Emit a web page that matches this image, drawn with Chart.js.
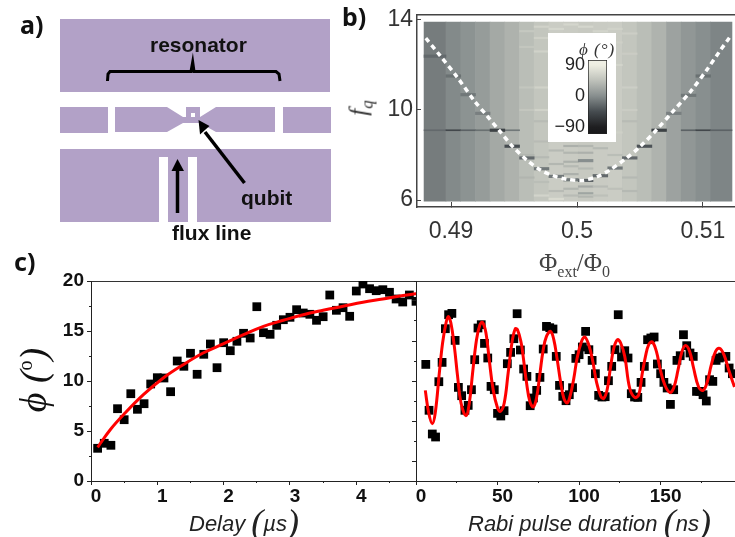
<!DOCTYPE html>
<html>
<head>
<meta charset="utf-8">
<script src="https://cdn.jsdelivr.net/npm/chart.js@4"></script>
<style>
  html, body { margin: 0; padding: 0; background: #fff; }
  #page { position: relative; width: 735px; height: 537px; overflow: hidden; }
  canvas { position: absolute; }
  .t { position: absolute; white-space: nowrap; font-family: "Liberation Sans", sans-serif; color: #111; line-height: 1; }
  .panel { font-family: "Noto Sans", sans-serif; font-weight: 700; font-size: 25px; }
  .lbl { font-weight: 700; font-size: 21px; }
  .ax { font-style: italic; font-size: 22px; color: #222; }
  .par { font-family: "Liberation Serif", serif; font-style: italic; font-size: 36px; font-weight: 400; vertical-align: -3px; }
  .rot { transform: translate(-50%, -50%) rotate(-90deg); }
</style>
</head>
<body>
<div id="page">
  <canvas id="chartA" width="340" height="260" style="left:0;top:0"></canvas>
  <canvas id="chartB" width="395" height="270" style="left:340px;top:0;filter:blur(0.6px)"></canvas>
  <canvas id="chartBar" width="68" height="109" style="left:548px;top:33px;background:#fff"></canvas>
  <canvas id="chartDelay" width="420" height="267" style="left:0;top:270px"></canvas>
  <canvas id="chartRabi" width="330" height="267" style="left:405px;top:270px"></canvas>

  <div class="t panel" style="left:20px;top:12px">a)</div>
  <div class="t panel" style="left:342px;top:4px">b)</div>
  <div class="t panel" style="left:14px;top:249px">c)</div>

  <div class="t lbl" style="left:150px;top:34px">resonator</div>
  <div class="t lbl" style="left:241px;top:187px">qubit</div>
  <div class="t lbl" style="left:172px;top:222px">flux line</div>

  <div class="t" style="left:579px;top:40px;font:italic 17px 'Liberation Serif',serif;color:#333;letter-spacing:1px">&#981; (&deg;)</div>
  <div class="t rot" style="left:361px;top:108px;font:italic 25px 'Liberation Serif',serif;color:#333">f<sub style="font-size:17px">q</sub></div>
  <div class="t" style="left:539px;top:249px;font:25px 'Liberation Serif',serif;color:#444">&Phi;<sub style="font-size:16px">ext</sub>/&Phi;<sub style="font-size:16px">0</sub></div>

  <div class="t rot" style="left:33px;top:380px;font:italic 38px 'Liberation Serif',serif"><span>&#981;</span> (<sup style="font-size:20px;font-style:normal">o</sup>)</div>
  <div class="t ax" style="left:189px;top:504px">Delay <span class="par">(</span>&micro;s<span class="par">)</span></div>
  <div class="t ax" style="left:468px;top:504px">Rabi pulse duration <span class="par">(</span>ns<span class="par">)</span></div>
</div>

<script>
// panel a outlines, in the pixel grid of the sketch
const PURPLE = '#b2a1c7';
const topPlate = [[60,19],[330,19],[330,92],[60,92]];
const midLeft = [[60,107],[108,107],[108,133],[60,133]];
const midCentre = [[115,107],[167,107],[183,117],[186,117],[186,107],[200,107],[200,117],[216,107],[275,107],[275,132],[216,132],[200,123],[183,123],[167,132],[115,132]];
const midRight = [[283,107],[331,107],[331,133],[283,133]];
const bottomPlate = [[60,149],[331,149],[331,222],[60,222]];
const slotLeft = [[159,157],[168,157],[168,222],[159,222]];
const slotRight = [[188,157],[197,157],[197,222],[188,222]];
const qubitHole = [[191,113],[195,113],[195,117],[191,117]];
const bracket = [[107.5,81],[108,74],[110,71.5],[191,71.5],[192.7,62],[194,71.5],[276,71.5],[279,74],[280,81]];
const fluxShaft = [[177.5,213],[177.5,170]];
const fluxHead = [[171.5,171],[177.5,159],[184,171]];
const qubitShaft = [[244.5,183],[205,132]];
const qubitHead = [[198.5,120],[209.5,126],[200,134.5]];

// panel b: band edges in flux, phase of each band
const bandEdges = [0.48786,0.48960,0.49077,0.49194,0.49310,0.49427,0.49544,0.49660,0.49777,0.49894,0.50010,0.50127,0.50244,0.50360,0.50477,0.50594,0.50710,0.50827,0.50944,0.51060,0.51230];
const bandPhi = [-12,-3,4,12,24,32,42,50,56,55,53,55,56,50,42,33,18,8,1,-6,-12];
const streakBand = [9,9,9,9,9,9,9,10,10,10,10,10,10,8,8,8,8,11,11,11,7,7,7,7,12,12,6,6,13,13,7,7,7,8,8,8,9,9,10,10,10,11,11,12,12,13,13,6,6,7,7,7,6,6,13,13,13,12,12];
const streakF = [8.4,8.1,7.7,7.5,7.15,6.5,6.2,8.4,8.1,7.4,6.6,6.3,6.15,8.2,7.6,6.4,6.05,8.3,6.6,6.2,8.6,7.9,6.8,6.2,8,6.5,7,8,7,6.4,13.7,13.2,12.6,13.6,13,12.4,13.8,13.3,13.7,13.3,12.7,13.5,12.9,13.6,13,13.4,12.5,13.5,12.8,11,10,9.5,11,10,10,9.5,11,12,9];
const streakPhi = [30,35,30,38,30,35,40,35,30,38,25,20,35,38,36,40,70,38,40,44,40,38,42,64,42,44,34,34,38,38,62,60,62,66,64,66,66,64,66,62,66,64,66,62,60,58,56,52,50,62,62,40,50,50,56,40,58,64,60];
const dashBand = [0,1,2,3,4,5,6,7,8,9,10,10,11,12,13,14,15,16,17,18];
const dashF = [12.39,11.51,10.68,9.85,9.1,8.39,7.87,7.39,7.05,6.9,6.87,7.75,7.08,7.42,7.87,8.39,9.1,9.85,10.65,11.51];
const dashPhi = [-25,-20,-15,-10,-55,-45,-25,-15,-15,-15,-30,0,-25,-15,-25,-40,-55,-10,-15,-20];
const lineF = 9.1;
const lineBands = [0,1,2,3,5,15,17,18,19];
const lineBandPhi = [-25,-50,-30,-20,-15,-15,-30,-50,-30];
const curveFlux = [0.4880,0.4891,0.4905,0.4919,0.4928,0.4939,0.4949,0.4960,0.4971,0.4981,0.4992,0.5004,0.5016,0.5026,0.5039,0.5050,0.5063,0.5076,0.5090,0.5103,0.5113,0.5121];
const curveFq = [13.19,12.44,11.45,10.37,9.78,9.04,8.37,7.78,7.33,7.08,6.92,6.87,7.04,7.33,7.85,8.37,9.11,9.93,10.81,11.78,12.59,13.21];
const fluxTicks = [0.49,0.5,0.51];
const fqTicks = [6,10,14];
const barTicks = [-90,0,90];

// panel c, delay trace
const delayT = [0.1,0.2,0.3,0.4,0.5,0.6,0.7,0.8,0.9,1.0,1.1,1.2,1.3,1.4,1.5,1.6,1.7,1.8,1.9,2.0,2.1,2.2,2.3,2.4,2.5,2.6,2.7,2.8,2.9,3.0,3.1,3.2,3.3,3.4,3.5,3.6,3.7,3.8,3.9,4.0,4.1,4.2,4.3,4.4,4.5,4.6,4.7,4.8,4.9];
const delayPhi = [3.27,3.77,3.57,7.23,6.13,8.73,7.17,7.73,9.7,10.33,10.3,8.93,12.0,11.47,12.77,10.67,12.67,13.7,11.33,13.83,13.03,13.97,14.77,14.3,17.43,14.83,14.67,15.57,16.13,16.37,17.13,16.8,16.67,16.07,16.43,18.6,17.07,17.33,16.47,19.0,19.7,19.23,19.03,19.13,18.87,18.2,17.9,18.6,17.97];
const delayFitT = [0.1,0.29,0.49,0.79,1.09,1.39,1.69,2.0,2.3,2.6,2.9,3.2,3.5,3.8,4.1,4.4,4.66,4.91];
const delayFitPhi = [3.37,5.13,6.63,8.63,10.3,11.63,12.8,13.73,14.63,15.47,16.07,16.63,17.07,17.47,17.87,18.2,18.5,18.73];

// panel c, Rabi trace
const rabiT = [6,8,10,12,14,16,18,20,22,24,26,28,30,32,34,36,38,40,42,44,46,48,50,52,54,56,58,60,62,64,66,68,70,72,74,76,78,80,82,84,86,88,90,92,94,96,98,100,102,104,106,108,110,112,114,116,118,120,122,124,126,128,130,132,134,136,138,140,142,144,146,148,150,152,154,156,158,160,162,164,166,168,170,172,174,176,178,180,182,184,186,188,190,192,194];
const rabiPhi = [11.66,7.07,4.7,4.4,9.93,11.86,15.23,16.63,16.76,14.06,9.36,8.53,7.07,7.56,9.13,12.13,15.3,15.63,13.76,12.3,9.46,9.13,6.76,6.5,7.03,11.73,12.86,14.23,16.73,13.1,11.2,10.46,7.53,8.3,9.06,10.36,13.2,15.46,15.33,15.2,12.46,9.56,8.46,8.03,8.63,9.33,12.26,12.63,13.4,14.96,13.13,12.06,10.73,8.56,8.4,8.43,10.03,11.46,13.13,16.63,12.4,13.03,12.3,8.73,8.4,8.36,9.86,11.46,14.13,14.3,14.4,11.7,10.73,9.86,9.3,7.66,9.13,12.06,12.53,14.63,13.53,12.8,12.46,8.96,8.96,8.63,8,10.13,9.96,12.06,12.3,12.4,12.46,11.3,10.73];
const rabiFitT = [5.7,7.8,10,11.8,14.3,16.3,18.4,19.8,21.4,23.5,25.5,27.6,30.6,32.7,34.7,37.1,39.2,40.8,42.9,44.9,47.3,50,51.8,54.1,56.5,58.8,60.8,62.2,64.5,65.7,67.8,69.8,71.9,73.9,75.9,78,80,82.5,84.5,86.6,88.6,90.6,92.7,94.7,96.8,98.8,101.5,103.5,105.9,108.2,110.6,113.3,115.1,117.2,119.2,121.3,123.5,125.5,128,131,134.1,136.6,138.6,140.7,142.7,144.9,147.4,149.8,152.5,155.6,158,160.7,163.1,165.3,167.8,170.2,173.3,176,178.4,181.1,183.7,186.2,188.8,191.7,195.3];
const rabiFitPhi = [9.06,6.8,5.73,6.8,10.8,13.8,15.8,16.46,15.8,13.46,10.46,7.8,6.53,7.8,10.8,14.13,15.63,15.86,14.8,12.13,9.13,7.3,6.96,7.8,10.8,13.8,15.2,15.13,13.8,12.46,9.8,7.96,7.4,8.3,10.63,13.13,14.46,14.96,14.13,12.13,9.96,8.3,7.8,8.63,10.3,12.3,13.96,14.4,13.63,12.13,9.96,8.46,8.26,9.13,11.3,13.3,14.13,13.8,12.46,9.3,8.36,8.63,10.63,12.46,13.63,13.9,12.96,11.13,9.63,8.86,9.3,11.13,12.96,13.56,12.96,11.3,9.4,9.06,9.8,11.63,12.96,13.26,12.63,11.13,9.4];

Chart.defaults.animation = false;
Chart.defaults.responsive = false;
Chart.defaults.plugins.legend.display = false;
Chart.defaults.plugins.tooltip.enabled = false;
Chart.defaults.font.family = '"Liberation Sans", sans-serif';

const zip = (xs, ys) => xs.map((x, i) => ({ x: x, y: ys[i] }));
// axes get a fixed size and no label overhang, so the plot areas land where the reference has them
const noPad = s => { s.paddingLeft = s.paddingRight = s.paddingTop = s.paddingBottom = 0; };
const fixW = w => s => { s.width = w; noPad(s); };
const fixH = h => s => { s.height = h; noPad(s); };
const ticksAt = vals => s => { s.ticks = vals.map(v => ({ value: v })); };

// grey ramp of the colour bar
const ramp = [[-110,24,24,26],[-90,30,30,32],[-45,70,76,80],[0,135,142,142],[45,190,193,186],[90,238,238,226],[105,240,240,230]];
function phiColor(phi) {
  for (let i = 1; i < ramp.length; i++) {
    if (phi <= ramp[i][0]) {
      const a = ramp[i - 1], b = ramp[i], k = (phi - a[0]) / (b[0] - a[0]);
      return 'rgb(' + [1, 2, 3].map(c => Math.round(a[c] + (b[c] - a[c]) * k)).join(',') + ')';
    }
  }
  return 'rgb(240,240,230)';
}

// panel a
function shape(points, color) {
  return { data: points.map(p => ({ x: p[0], y: p[1] })), backgroundColor: color, borderWidth: 0, pointRadius: 0, fill: 'shape', tension: 0 };
}
function stroke(points, width) {
  return { data: points.map(p => ({ x: p[0], y: p[1] })), borderColor: '#000', borderWidth: width, pointRadius: 0, fill: false, tension: 0 };
}
new Chart(document.getElementById('chartA'), {
  type: 'line',
  data: {
    datasets: [
      stroke(bracket, 3), stroke(fluxShaft, 3.5), shape(fluxHead, '#000'), stroke(qubitShaft, 3.5), shape(qubitHead, '#000'),
      shape(qubitHole, '#fff'), shape(slotLeft, '#fff'), shape(slotRight, '#fff'),
      shape(topPlate, PURPLE), shape(midLeft, PURPLE), shape(midCentre, PURPLE), shape(midRight, PURPLE), shape(bottomPlate, PURPLE)
    ]
  },
  options: {
    layout: { autoPadding: false },
    scales: {
      x: { type: 'linear', display: false, min: 0, max: 340 },
      y: { type: 'linear', display: false, min: 0, max: 260, reverse: true }
    }
  }
});

// panel b: the heat map is floating horizontal bars, all in one stack so they overlap
function cells(bands, fs, phis, thickness) {
  return {
    type: 'bar', indexAxis: 'y', stack: 'heat', barThickness: thickness, borderWidth: 0, borderSkipped: false,
    data: bands.map((b, i) => ({ x: [bandEdges[b], bandEdges[b + 1]], y: fs[i] })),
    backgroundColor: phis.map(phiColor)
  };
}
const allBands = bandPhi.slice(0, 20).map((p, i) => i);
new Chart(document.getElementById('chartB'), {
  data: {
    datasets: [
      { type: 'line', data: zip(curveFlux, curveFq), borderColor: '#fff', borderWidth: 3.5, borderDash: [5, 4], pointRadius: 0, tension: 0.3, fill: false },
      cells(dashBand, dashF, dashPhi, 2.5),
      cells(lineBands, lineBands.map(() => lineF), lineBandPhi, 1),
      cells(streakBand, streakF, streakPhi, 1.5),
      cells(allBands, allBands.map(() => 9.93), bandPhi.slice(0, 20), 179)
    ]
  },
  options: {
    layout: { autoPadding: false, padding: { top: 15 } },
    scales: {
      x: {
        type: 'linear', min: 0.4873, max: 0.51254, stacked: false, afterFit: fixH(63), afterBuildTicks: ticksAt(fluxTicks),
        grid: { drawOnChartArea: false, tickLength: -5, color: '#444' }, border: { color: '#444', width: 1.5 },
        ticks: { color: '#333', font: { size: 23 }, padding: 16, maxRotation: 0, callback: v => String(v) }
      },
      y: {
        type: 'linear', min: 5.69, max: 14.22, offset: false, afterFit: fixW(77), afterBuildTicks: ticksAt(fqTicks),
        grid: { drawOnChartArea: false, offset: false, tickLength: -4, color: '#444' }, border: { color: '#444', width: 1.5 },
        ticks: { color: '#333', font: { size: 23 }, padding: 8 }
      },
      xTop: {
        type: 'linear', axis: 'x', min: 0, max: 1, position: { y: 14.22 },
        grid: { drawOnChartArea: false, drawTicks: false }, border: { color: '#444', width: 1.5 }, ticks: { display: false }
      }
    }
  }
});

// colour bar inset
new Chart(document.getElementById('chartBar'), {
  type: 'bar',
  data: {
    labels: ['phi'],
    datasets: [{
      data: [[-110, 104.5]],
      barPercentage: 1, categoryPercentage: 1, borderWidth: 1, borderColor: '#222', borderSkipped: false,
      backgroundColor: c => {
        const area = c.chart.chartArea;
        if (!area) return '#888';
        const g = c.chart.ctx.createLinearGradient(0, area.bottom, 0, area.top);
        ramp.forEach(r => g.addColorStop((Math.min(r[0], 104.5) + 110) / 214.5, phiColor(r[0])));
        return g;
      }
    }]
  },
  options: {
    layout: { autoPadding: false, padding: { top: 27, right: 9, bottom: 8 } },
    scales: {
      x: { display: false },
      y: {
        min: -110, max: 104.5, afterFit: fixW(40), afterBuildTicks: ticksAt(barTicks),
        grid: { drawOnChartArea: false, tickLength: -2, color: '#444' }, border: { display: false },
        ticks: { color: '#222', font: { size: 18 }, padding: 5, callback: v => v < 0 ? '\u2212' + (-v) : String(v) }
      }
    }
  }
});

// panel c axes, major and minor ticks sit on separate scales because tick length is per scale
function majorX(min, max, step, height) {
  return {
    type: 'linear', min: min, max: max, afterFit: fixH(height),
    grid: { drawOnChartArea: false, tickLength: 4, color: '#222' }, border: { color: '#222' },
    ticks: { stepSize: step, color: '#111', font: { size: 19, weight: 'bold' }, padding: 0, labelOffset: 5, maxRotation: 0, autoSkip: false, includeBounds: false, callback: v => v }
  };
}
function minorX(min, max, vals) {
  return {
    type: 'linear', axis: 'x', min: min, max: max, position: { y: 0 }, afterBuildTicks: ticksAt(vals),
    grid: { drawOnChartArea: false, tickLength: 2, color: '#222' }, border: { display: false }, ticks: { display: false }
  };
}
function topLine(min, max) {
  return {
    type: 'linear', axis: 'x', min: min, max: max, position: { y: 20 },
    grid: { drawOnChartArea: false, drawTicks: false }, border: { color: '#333' }, ticks: { display: false }
  };
}
function minorY(vals, side) {
  return {
    type: 'linear', axis: 'y', min: 0, max: 20, position: { x: side }, afterBuildTicks: ticksAt(vals),
    grid: { drawOnChartArea: false, tickLength: 2, color: '#222' }, border: { display: false }, ticks: { display: false }
  };
}
function traces(xs, ys, fitX, fitY) {
  return [
    { data: zip(fitX, fitY), borderColor: '#f00', borderWidth: 3, pointRadius: 0, tension: 0.4, showLine: true },
    { data: zip(xs, ys), showLine: false, pointStyle: 'rect', pointRadius: 6.2, pointBackgroundColor: '#000', pointBorderWidth: 0 }
  ];
}

new Chart(document.getElementById('chartDelay'), {
  type: 'scatter',
  data: { datasets: traces(delayT, delayPhi, delayFitT, delayFitPhi) },
  options: {
    layout: { autoPadding: false, padding: { top: 11, right: 4 } },
    scales: {
      x: majorX(0, 4.9, 1, 56),
      xMinor: minorX(0, 4.9, [0.5, 1.5, 2.5, 3.5, 4.5]),
      xTop: topLine(0, 4.9),
      y: {
        type: 'linear', min: 0, max: 20, afterFit: fixW(91),
        grid: { drawOnChartArea: false, tickLength: 4, color: '#222' }, border: { color: '#222' },
        ticks: { stepSize: 5, color: '#111', font: { size: 19, weight: 'bold' }, padding: 3 }
      },
      yMinor: minorY([2.5, 7.5, 12.5, 17.5], 0)
    }
  }
});

new Chart(document.getElementById('chartRabi'), {
  type: 'scatter',
  data: { datasets: traces(rabiT, rabiPhi, rabiFitT, rabiFitPhi) },
  options: {
    layout: { autoPadding: false, padding: { top: 11 } },
    scales: {
      x: majorX(0, 195.6, 50, 56),
      xMinor: minorX(0, 195.6, [25, 75, 125, 175]),
      xTop: topLine(0, 195.6),
      y: {
        type: 'linear', min: 0, max: 20, afterFit: fixW(11), afterBuildTicks: ticksAt([2, 6, 10, 14, 18]),
        grid: { drawOnChartArea: false, tickLength: 4, color: '#222' }, border: { color: '#222' },
        ticks: { display: false }
      },
      yMinor: minorY([4, 8, 12, 16, 20], 0)
    }
  }
});
</script>
</body>
</html>
